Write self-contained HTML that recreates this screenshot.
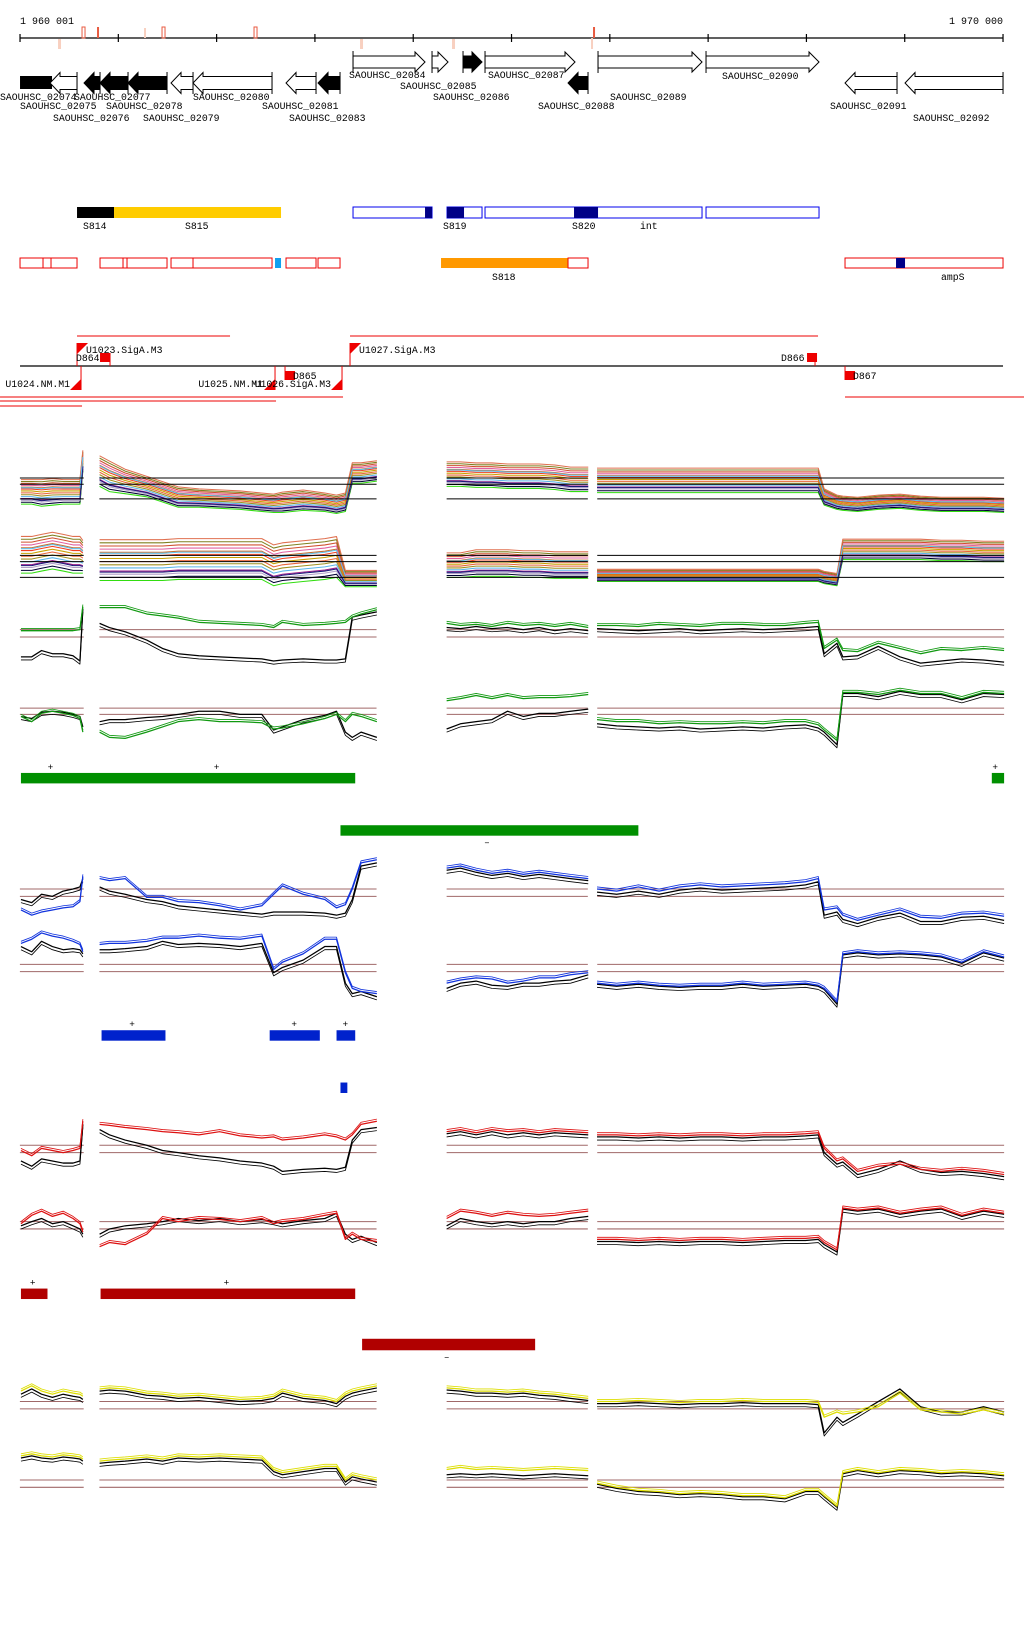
<!DOCTYPE html>
<html><head><meta charset="utf-8"><style>
html,body{margin:0;padding:0;background:#fff;}
svg{display:block;}
text{font-family:"Liberation Mono","DejaVu Sans Mono",monospace;}
</style></head><body>
<svg id="chart" width="1024" height="1640" viewBox="0 0 979 1568" xmlns="http://www.w3.org/2000/svg">
<rect width="979" height="1568" fill="#fff"/>
<g id="topg" transform="scale(0.9561)"></g>
<g id="plots"></g>
</svg>
<script>
const genesFwdTop = [["SAOUHSC_02084",353,425,"#fff",349,75],["SAOUHSC_02085",432,448,"#fff",400,86],["SAOUHSC_02086",463,482,"#000",433,97],["SAOUHSC_02087",485,575,"#fff",488,75],["SAOUHSC_02089",598,702,"#fff",610,97],["SAOUHSC_02090",706,819,"#fff",722,76]];
const genesRev = [["SAOUHSC_02075",50,77,"#fff",20,106],["SAOUHSC_02076",84,100,"#000",53,118],["SAOUHSC_02077",100,128,"#000",74,97],["SAOUHSC_02078",128,167,"#000",106,106],["SAOUHSC_02079",171,193,"#fff",143,118],["SAOUHSC_02080",193,272,"#fff",193,97],["SAOUHSC_02081",286,316,"#fff",262,106],["SAOUHSC_02083",318,340,"#000",289,118],["SAOUHSC_02088",568,588,"#000",538,106],["SAOUHSC_02091",845,897,"#fff",830,106],["SAOUHSC_02092",905,1003,"#fff",913,118]];

const kb = [0,0.11,0.21,0.32,0.43,0.53,0.6,0.63,
 0.8,0.9,1.06,1.28,1.44,1.6,1.81,2.02,2.23,2.45,2.57,2.66,2.87,3.09,3.21,3.3,3.37,3.46,3.62,
 4.33,4.47,4.63,4.79,4.95,5.11,5.27,5.43,5.59,5.77,
 5.86,6.06,6.28,6.49,6.7,6.91,7.13,7.34,7.55,7.77,7.98,8.11,8.17,8.3,8.36,8.51,8.72,8.94,9.15,9.36,9.57,9.79,10];
const panelStarts = [0,8,27,37];

const rowA_median = [25,25,24,25,25,25,25,55, 45,40,35,30,25,20,19,18,17,15,14,15,17,15,13,15,43,43,45, 42,42,41,41,40,40,40,39,37,37, 36,36,36,36,36,36,36,36,36,36,36,36,20,15,14,13,15,16,14,13,13,13,12];
const rowA_spread = [12,12,13,13,12,12,12,10, 15,15,12,10,10,10,9,9,9,9,9,10,10,9,9,9,10,10,10, 12,12,12,12,12,12,12,12,12,12, 12,12,12,12,12,12,12,12,12,12,12,12,8,7,7,7,7,7,7,7,7,7,7];
const rowB_median = [38,38,40,42,40,38,38,36, 33,33,33,33,33,34,34,34,34,34,28,30,32,34,36,15,15,15,15, 28,28,30,30,30,29,29,28,28,28, 18,18,18,18,18,18,18,18,18,18,18,18,16,14,43,43,43,43,43,42,42,41,41];
const rowB_spread = [18,18,18,18,18,18,18,16, 20,20,20,20,20,20,20,20,20,20,20,20,20,20,20,8,8,8,8, 12,12,13,13,13,13,13,13,13,13, 6,6,6,6,6,6,6,6,6,6,6,6,6,6,10,10,10,10,10,10,10,10,10];
const bundleOffsets = [-1,-0.85,-0.7,-0.55,-0.4,-0.25,-0.1,0.05,0.2,0.35,0.5,0.65,0.8,0.95,-0.6,0.3];
const bundleColors = ["#33dd11","#000033","#b0a0c8","#9a1f8a","#5ab4e8","#a09020","#e8663a","#c8a000","#f04020","#c87030","#e060a0","#d05030","#808020","#e07050","#1a1a7a","#60c0f0"];

const rowC_green = [42,42,42,42,42,42,43,65, 64,64,64,58,56,54,50,49,48,47,45,50,47,48,49,50,55,58,62, 49,47,48,46,49,47,48,46,48,45, 47,47,46,48,47,46,48,48,47,47,49,50,25,33,23,22,30,25,20,24,23,25,23];
const rowC_black = [17,17,23,20,20,18,13,63, 49,45,41,33,25,20,18,17,16,15,13,14,15,14,14,15,55,57,60, 45,44,46,44,45,43,45,42,44,42, 44,43,42,43,44,42,43,44,43,44,45,46,20,30,17,18,27,17,11,13,15,14,12];
const rowD_green = [30,25,33,35,33,31,28,15, 15,10,9,15,20,25,27,25,25,24,18,19,23,28,32,25,32,30,25, 45,47,50,47,50,47,48,48,49,51, 27,25,25,23,24,23,23,24,23,25,25,22,17,7,53,53,51,55,52,52,47,53,52];
const rowD_black = [30,28,34,35,34,32,30,20, 25,27,27,29,30,32,35,35,32,32,17,20,27,31,35,15,10,15,10, 18,23,25,27,35,30,33,33,35,37, 23,21,20,19,20,18,19,20,19,21,22,19,15,3,52,52,49,54,51,51,46,52,51];

const rowE_blue = [15,10,13,15,17,18,23,47, 45,43,45,27,27,23,22,19,15,19,30,38,30,25,17,20,35,60,63, 55,57,53,50,52,49,51,49,47,45, 35,33,37,33,37,39,37,38,39,40,42,45,15,17,10,5,10,15,8,7,11,12,9];
const rowE_black = [25,22,30,28,33,35,37,45, 37,33,30,25,23,19,17,15,13,11,13,13,13,12,10,12,25,57,60, 53,55,51,48,50,47,49,47,45,43, 32,30,33,30,34,36,34,35,36,37,39,42,10,13,6,2,8,12,4,4,8,9,5];
const rowF_blue = [63,67,73,70,68,65,62,55, 62,63,63,65,68,68,70,68,67,70,38,45,53,67,67,35,20,17,15, 25,28,30,29,25,27,30,30,33,35, 25,23,25,23,22,23,23,25,23,24,25,23,20,7,53,55,53,54,53,51,45,55,50];
const rowF_black = [60,55,65,60,57,58,57,53, 57,57,58,60,65,62,63,62,60,63,35,40,47,60,60,25,15,17,12, 20,25,27,23,22,25,25,27,28,33, 24,22,24,22,21,22,22,24,22,23,24,22,19,5,52,54,52,53,52,50,44,54,49];

const rowG_red = [35,30,37,35,33,35,37,63, 60,59,57,55,53,52,50,53,49,47,48,45,47,50,48,45,50,60,63, 53,55,52,55,53,54,52,54,53,52, 50,50,49,50,49,50,50,49,50,50,51,52,37,25,27,15,20,22,17,15,17,15,12];
const rowG_black = [25,20,27,25,23,23,25,60, 55,50,45,40,35,33,30,28,25,23,20,15,17,18,17,19,45,55,57, 51,53,50,53,50,52,50,52,51,50, 48,48,47,48,47,48,48,47,48,48,49,50,33,22,24,12,17,25,17,14,15,13,10];
const rowH_red = [35,43,47,42,45,40,35,27, 13,17,15,25,40,37,40,39,37,40,35,37,39,43,45,20,25,20,18, 40,47,45,42,45,43,42,43,45,47, 20,20,19,20,19,20,20,19,20,21,21,22,17,10,50,48,50,45,48,50,43,48,45];
const rowH_black = [33,37,40,35,37,33,30,25, 25,30,33,35,37,40,38,40,37,39,37,35,38,40,45,25,20,23,17, 33,40,37,35,37,35,37,37,40,42, 18,18,17,18,17,18,18,17,18,19,19,20,15,8,49,47,49,44,47,49,42,47,44];

const rowI_yellow = [50,55,50,47,50,48,47,45, 52,53,52,48,47,45,46,44,42,43,45,50,45,43,40,47,50,52,55, 53,52,50,50,49,50,48,47,45,43, 40,40,41,40,39,40,40,41,40,40,40,39,25,30,28,30,35,48,32,30,28,32,28];
const rowI_black = [47,52,47,44,47,45,44,42, 50,51,50,46,45,43,44,42,40,41,43,48,43,41,38,45,48,50,53, 51,50,48,48,47,48,46,45,43,41, 38,38,39,38,37,38,38,39,38,38,38,37,10,25,20,28,40,52,35,30,30,35,30];
const rowJ_yellow = [58,60,58,57,59,58,57,55, 53,54,55,57,55,58,57,58,57,56,45,42,45,48,48,35,40,38,35, 45,47,45,46,45,44,45,46,45,44, 32,28,25,24,22,23,22,20,20,18,25,25,20,10,42,45,42,45,44,42,43,42,40];
const rowJ_black = [56,58,56,55,57,56,55,53, 51,52,53,55,53,56,55,56,55,54,43,40,43,46,46,33,38,36,33, 40,41,40,41,40,39,40,41,40,39, 31,27,24,23,21,22,21,19,19,17,24,24,19,9,41,44,41,44,43,41,42,41,39];

const greenPlusBars = [[0,3.4],[9.875,10]];
const greenPlusSigns = [0.3,1.99,9.91];
const greenMinusBars = [[3.25,6.28]];
const greenMinusSigns = [4.74];
const bluePlusBars = [[0.82,1.47],[2.53,3.04],[3.21,3.4]];
const bluePlusSigns = [1.13,2.78,3.3];
const blueMinusBars = [[3.25,3.32]];
const blueMinusSigns = [];
const redPlusBars = [[0,0.27],[0.81,3.4]];
const redPlusSigns = [0.12,2.09];
const redMinusBars = [[3.47,5.23]];
const redMinusSigns = [4.33];

const SVGNS="http://www.w3.org/2000/svg";
function mk(parent,tag,attrs){const el=document.createElementNS(SVGNS,tag);for(const k in attrs)el.setAttribute(k,attrs[k]);parent.appendChild(el);return el;}
const topG=document.getElementById('topg');
const plots=document.getElementById('plots');
let e;

e=mk(topG,'line',{x1:20,y1:38,x2:1003,y2:38,stroke:'#000','stroke-width':1.3});


const tickKb=[0,1,2,3,4,5,6,7,8,9,10];
tickKb.forEach(t=>{const x=20+t*98.3;
 e=mk(topG,'line',{x1:x,y1:34,x2:x,y2:42,stroke:'#000','stroke-width':1.2});
 
 });
e=mk(topG,'text',{x:20,y:24,'font-size':10});e.textContent='1 960 001';


e=mk(topG,'text',{x:1003,y:24,'font-size':10,'text-anchor':'end'});e.textContent='1 970 000';


const snpMarks=[[58,39,10,'#f8d0c0',1],[82,27,11,'#e85a40',0],[97,27,11,'#e85a40',2],[144,28,10,'#f8d0c0',2],[162,27,11,'#e85a40',0],[254,27,11,'#e85a40',0],[360,39,10,'#f8d0c0',1],[452,39,10,'#f8d0c0',1],[593,27,11,'#e85a40',2],[591,38,11,'#f8d0c0',2]];
snpMarks.forEach(m=>{
 e=mk(topG,'rect',{x:m[0],y:m[1],width:m[4]===2?2:3,height:m[2],fill:m[4]===0?'none':m[3],stroke:m[4]===0?m[3]:'none','stroke-width':1});
 
 });

function arrowPath(x1,x2,yc,dir,bh,hh){const hl=Math.min(10,(x2-x1)*0.7);
 if(dir>0){return `M${x1},${yc-bh}L${x2-hl},${yc-bh}L${x2-hl},${yc-hh}L${x2},${yc}L${x2-hl},${yc+hh}L${x2-hl},${yc+bh}L${x1},${yc+bh}Z`;}
 return `M${x2},${yc-bh}L${x1+hl},${yc-bh}L${x1+hl},${yc-hh}L${x1},${yc}L${x1+hl},${yc+hh}L${x1+hl},${yc+bh}L${x2},${yc+bh}Z`;}
genesFwdTop.forEach(g=>{
 e=mk(topG,'path',{d:arrowPath(g[1],g[2],62,1,6,10),fill:g[3],stroke:'#000','stroke-width':1});
 
 
 e=mk(topG,'line',{x1:g[1],y1:51,x2:g[1],y2:73,stroke:'#000','stroke-width':1});
 
 
 e=mk(topG,'text',{x:g[4],y:g[5]+3,'font-size':9.8});e.textContent=g[0];
 
 });
e=mk(topG,'rect',{x:20,y:76,width:32,height:13,fill:'#000'});


e=mk(topG,'text',{x:0,y:100,'font-size':9.8});e.textContent='SAOUHSC_02074';


genesRev.forEach(g=>{
 e=mk(topG,'path',{d:arrowPath(g[1],g[2],83,-1,6.5,10.5),fill:g[3],stroke:'#000','stroke-width':1});
 
 
 e=mk(topG,'line',{x1:g[2],y1:72,x2:g[2],y2:94,stroke:'#000','stroke-width':1});
 
 
 e=mk(topG,'text',{x:g[4],y:g[5]+3,'font-size':9.8});e.textContent=g[0];
 
 });

const segRow1=[[77,114,'#000','none','S814',83],[114,281,'#ffcc00','none','S815',185],[353,432,'#fff','#0000ee',null],[425,432,'#000088','none',null],[447,482,'#fff','#0000ee',null],[447,464,'#000088','none','S819',443],[485,702,'#fff','#0000ee',null],[574,598,'#000088','none','S820',572],[706,819,'#fff','#0000ee',null]];
segRow1.forEach(s=>{
 e=mk(topG,'rect',{x:s[0],y:207,width:s[1]-s[0],height:11,fill:s[2],stroke:s[3],'stroke-width':1});
 
 
 if(s[4]){e=mk(topG,'text',{x:s[5],y:229,'font-size':9.8});e.textContent=s[4];
 
 }});
e=mk(topG,'text',{x:640,y:229,'font-size':9.8});e.textContent='int';


const segRow2=[[20,43,'#fff','#ee0000'],[43,51,'#fff','#ee0000'],[51,77,'#fff','#ee0000'],[100,123,'#fff','#ee0000'],[123,127,'#fff','#ee0000'],[127,167,'#fff','#ee0000'],[171,193,'#fff','#ee0000'],[193,272,'#fff','#ee0000'],[275,281,'#10a0f0','none'],[286,316,'#fff','#ee0000'],[318,340,'#fff','#ee0000'],[441,568,'#ff9900','none'],[568,588,'#fff','#ee0000'],[845,1003,'#fff','#ee0000'],[896,905,'#000088','none']];
segRow2.forEach(s=>{
 e=mk(topG,'rect',{x:s[0],y:258,width:s[1]-s[0],height:10,fill:s[2],stroke:s[3],'stroke-width':1});
 
 });
e=mk(topG,'text',{x:492,y:280,'font-size':9.8});e.textContent='S818';


e=mk(topG,'text',{x:941,y:280,'font-size':9.8});e.textContent='ampS';



e=mk(topG,'line',{x1:20,y1:366,x2:1003,y2:366,stroke:'#000','stroke-width':1.2});


const redLines=[[77,230,336],[350,818,336],[0,343,397],[0,276,401],[0,82,406],[845,1024,397]];
redLines.forEach(l=>{
 e=mk(topG,'line',{x1:l[0],y1:l[2],x2:l[1],y2:l[2],stroke:'#ee0000','stroke-width':1});
 
 });
const flagsUp=[[77,'U1023.SigA.M3'],[350,'U1027.SigA.M3']];
flagsUp.forEach(f=>{
 e=mk(topG,'path',{d:`M${f[0]},343L${f[0]+11},343L${f[0]},354Z`,fill:'#ee0000'});
 
 
 e=mk(topG,'line',{x1:f[0],y1:343,x2:f[0],y2:366,stroke:'#ee0000','stroke-width':1});
 
 
 e=mk(topG,'text',{x:f[0]+9,y:353,'font-size':9.8});e.textContent=f[1];
 
 });
const flagsDown=[[81,'U1024.NM.M1',70],[275,'U1025.NM.M1',263],[342,'U1026.SigA.M3',331]];
flagsDown.forEach(f=>{
 e=mk(topG,'path',{d:`M${f[0]},379L${f[0]},390L${f[0]-11},390Z`,fill:'#ee0000'});
 
 
 e=mk(topG,'line',{x1:f[0],y1:366,x2:f[0],y2:390,stroke:'#ee0000','stroke-width':1});
 
 
 e=mk(topG,'text',{x:f[2],y:387,'font-size':9.8,'text-anchor':'end'});e.textContent=f[1];
 
 });
const terms=[[100,353,'D864',76,361,110],[807,353,'D866',781,361,815],[285,371,'D865',293,379,285],[845,371,'D867',853,379,845]];
terms.forEach(t=>{
 e=mk(topG,'rect',{x:t[0],y:t[1],width:10,height:9,fill:'#ee0000'});
 
 
 e=mk(topG,'line',{x1:t[5],y1:Math.min(t[1],366),x2:t[5],y2:Math.max(t[1]+9,366),stroke:'#ee0000','stroke-width':1});
 
 
 e=mk(topG,'text',{x:t[3],y:t[4],'font-size':9.8});e.textContent=t[2];
 
 });

function X(k){return 20+k*94;}
const panelX=[[19,80],[95,360],[427,562],[571,960]];
function segs(){const out=[];for(let p=0;p<panelStarts.length;p++){const s=panelStarts[p],en=p+1<panelStarts.length?panelStarts[p+1]:kb.length;out.push([s,en]);}return out;}
function drawSeries(vals,bottom,color,width,dy,name){
 segs().forEach(([s,en])=>{let d='';for(let i=s;i<en;i++){d+=(i===s?'M':'L')+X(kb[i]).toFixed(1)+','+(bottom-vals[i]+dy).toFixed(1);}
  e=mk(plots,'path',{d:d,fill:'none',stroke:color,'stroke-width':width,'stroke-linejoin':'round'});
  
  });}
function refLines(ys,color,name){ys.forEach(y=>panelX.forEach(px=>{
 e=mk(plots,'line',{x1:px[0],y1:y,x2:px[1],y2:y,stroke:color,'stroke-width':1});
 
 }));}

function drawBundle(median,spread,bottom,name){bundleOffsets.forEach((o,j)=>{
 const vals=median.map((m,i)=>m+o*spread[i]);
 drawSeries(vals,bottom,bundleColors[j],1,0,name);});}
drawBundle(rowA_median,rowA_spread,495,'bundle-line-forward');
refLines([457,463,477],'#000','reference-line');
drawBundle(rowB_median,rowB_spread,568,'bundle-line-reverse');
refLines([531,537,552],'#000','reference-line');

function pair(colVals,blkVals,bottom,color,rl,label){
 refLines(rl,'#a06868','threshold-line');
 drawSeries(blkVals,bottom,'#000',1.2,0,label+'-black');
 drawSeries(blkVals,bottom,'#000',0.8,3,label+'-black');
 drawSeries(colVals,bottom,color,1.2,0,label+'-colored');
 drawSeries(colVals,bottom,color,0.8,-2,label+'-colored');}
pair(rowC_green,rowC_black,645,'#119911',[602,609],'green-forward-line');
pair(rowD_green,rowD_black,715,'#119911',[677,683],'green-reverse-line');
pair(rowE_blue,rowE_black,885,'#1133dd',[850,857],'blue-forward-line');
pair(rowF_blue,rowF_black,965,'#1133dd',[922,929],'blue-reverse-line');
pair(rowG_red,rowG_black,1135,'#dd1111',[1095,1102],'red-forward-line');
pair(rowH_red,rowH_black,1205,'#dd1111',[1168,1175],'red-reverse-line');
pair(rowI_yellow,rowI_black,1380,'#dddd00',[1340,1347],'yellow-forward-line');
pair(rowJ_yellow,rowJ_black,1450,'#dddd00',[1415,1422],'yellow-reverse-line');

function bars(list,signs,y,h,color,sign,name){list.forEach(b=>{
 e=mk(plots,'rect',{x:X(b[0]),y:y,width:X(b[1])-X(b[0]),height:h,fill:color});
 
 });
 signs.forEach(s=>{
 e=mk(plots,'text',{x:X(s),y:sign==='+'?y-3:y+h+9,'font-size':9,'text-anchor':'middle'});e.textContent=sign==='+'?'+':'–';
 
 });}
bars(greenPlusBars,greenPlusSigns,739,10,'#008f00','+','green-segment-plus');
bars(greenMinusBars,greenMinusSigns,789,10,'#008f00','-','green-segment-minus');
bars(bluePlusBars,bluePlusSigns,985,10,'#0022cc','+','blue-segment-plus');
bars(blueMinusBars,blueMinusSigns,1035,10,'#0022cc','-','blue-segment-minus');
bars(redPlusBars,redPlusSigns,1232,10,'#b00000','+','red-segment-plus');
bars(redMinusBars,redMinusSigns,1280,11,'#b00000','-','red-segment-minus');
</script>
</body></html>
